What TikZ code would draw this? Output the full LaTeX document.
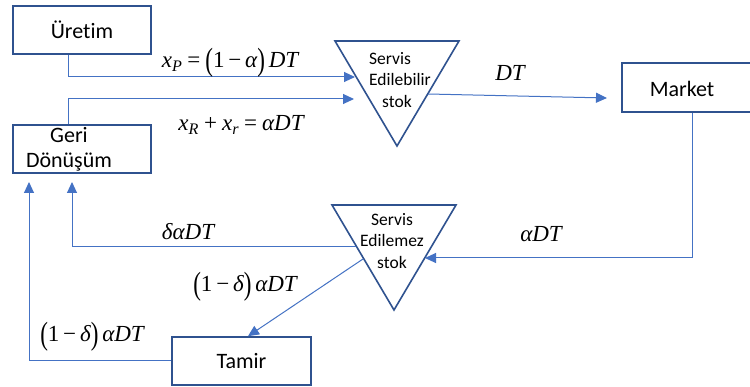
\documentclass[tikz,border=0pt]{standalone}
\usepackage{fontspec}
\setmainfont[RawFeature={-liga;-dlig}]{Carlito}
\newfontfamily\tnr{Liberation Serif}
\newcommand{\mi}[1]{{\itshape #1}}
\newcommand{\gapsp}{\hspace{0.22em}}
\newcommand{\bigpl}{\raisebox{-0.15em}{\scalebox{1}[1.4]{(}}}
\newcommand{\bigpr}{\raisebox{-0.15em}{\scalebox{1}[1.4]{)}}}
\usetikzlibrary{arrows.meta}
\definecolor{boxc}{HTML}{2F528F}
\definecolor{arrc}{HTML}{4472C4}
\begin{document}
\begin{tikzpicture}[x=1pt,y=-1pt,
 box/.style={draw=boxc, line width=1.6pt, minimum width=138pt, minimum height=48pt, inner sep=0pt},
 tri/.style={draw=boxc, line width=1.6pt, line join=miter},
 flow/.style={draw=arrc, line width=1pt, -{Triangle[length=11pt,width=10pt]}},
 lbl/.style={font=\fontsize{22}{25}\selectfont, inner sep=0pt},
 tlbl/.style={font=\fontsize{17.5}{21.5}\selectfont, inner sep=0pt},
 mlbl/.style={font=\tnr\fontsize{23}{26}\selectfont, inner sep=0pt}]
\clip (0,0) rectangle (750,387);
\fill[white] (0,0) rectangle (750,387);
% boxes
\node[box, lbl] (uret) at (82,30) {Üretim};
\node[box] (geri) at (82,149) {};
\node[lbl, align=center] (gerit) at (69,149.5) {Geri\\Dönüşüm};
\node[box, minimum width=150pt, minimum height=49pt] (market) at (697,87.5) {};
\node[lbl] (marketl) at (682,89) {Market};
\node[box, lbl, minimum width=139pt] (tamir) at (241.5,361) {Tamir};
% triangles
\coordinate (s1a) at (335,41);
\coordinate (s1b) at (459,41);
\coordinate (s1c) at (397,146);
\draw[tri] (s1a) -- (s1b) -- (s1c) -- cycle;
\node[tlbl, align=left, anchor=west] (s1t) at (369,80) {Servis\\Edilebilir\\\hspace*{13pt}stok};
\coordinate (s2a) at (332,205);
\coordinate (s2b) at (456,205);
\coordinate (s2c) at (394,310);
\draw[tri] (s2a) -- (s2b) -- (s2c) -- cycle;
\node[tlbl, align=center] (s2t) at (392,241) {Servis\\Edilemez\\stok};
% connector end points
\coordinate (e1) at (355,77);
\coordinate (e2) at (354,99);
\coordinate (d1) at (428,94);
\coordinate (d2) at (607,98);
\coordinate (e4) at (425,258);
\coordinate (f1) at (356,247);
\coordinate (g1) at (72,182);
\coordinate (f2) at (363,259);
\coordinate (g2) at (29,182);
% connectors
\draw[flow] ([xshift=-14pt]uret.south) |- (e1);
\draw[flow] ([xshift=-14pt]geri.north) |- (e2);
\draw[flow] (d1) -- (d2);
\draw[flow] ([xshift=-5pt]market.south) |- (e4);
\draw[flow] (f1) -| (g1);
\draw[flow] (f2) -- ([xshift=6.5pt]tamir.north);
\draw[flow] (tamir.west) -| (g2);
% labels
\node[mlbl] (l1) at (230,63) {\mi{x}\textsubscript{\mi{P}}\gapsp=\gapsp\bigpl1\,−\,\mi{α}\bigpr\,\mi{DT}};
\node[mlbl] (l2) at (241,125) {\mi{x}\textsubscript{\mi{R}}\gapsp+\gapsp\mi{x}\textsubscript{\mi{r}}\gapsp=\gapsp\mi{αDT}};
\node[mlbl] (l3) at (510,73) {\mi{DT}};
\node[mlbl] (l4) at (541,234) {\mi{αDT}};
\node[mlbl] (l5) at (188,232) {\mi{δαDT}};
\node[mlbl] (l6) at (245,287) {\bigpl1\,−\,\mi{δ}\bigpr\,\mi{αDT}};
\node[mlbl] (l7) at (92,337) {\bigpl1\,−\,\mi{δ}\bigpr\,\mi{αDT}};
\end{tikzpicture}
\end{document}
